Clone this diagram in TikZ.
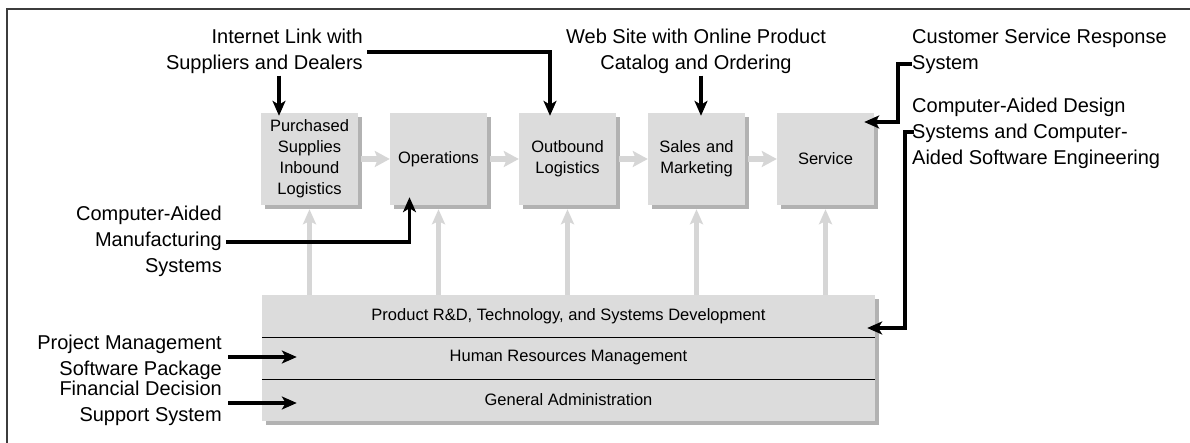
\documentclass[tikz,border=0pt]{standalone}
\usepackage{fontspec}
\setmainfont{Liberation Sans}
\usetikzlibrary{arrows.meta,shadows}
\definecolor{boxgray}{RGB}{220,220,220}
\definecolor{shadowgray}{RGB}{178,178,178}
\definecolor{flowgray}{RGB}{214,214,214}
\definecolor{framegray}{RGB}{60,60,60}
\begin{document}
\begin{tikzpicture}[x=1pt,y=-1pt,
  act/.style={fill=boxgray, minimum width=97pt, minimum height=92pt, inner sep=0pt,
    align=center, text width=95pt, font=\fontsize{16.5}{21}\selectfont,
    drop shadow={shadow xshift=4pt, shadow yshift=-4pt, fill=shadowgray, opacity=1}},
  row/.style={fill=boxgray, minimum width=613pt, minimum height=42pt, inner sep=0pt,
    font=\fontsize{16.5}{21}\selectfont},
  lbl/.style={inner sep=2pt, font=\fontsize{20}{26}\selectfont},
  blk/.style={line width=3.5pt, -{Stealth[length=15pt,width=13pt,inset=4pt]}},
  flow/.style={draw=flowgray, line width=6pt, -{Stealth[length=15pt,width=16pt,inset=3pt]}},
  vflow/.style={flow, line width=5pt, -{Stealth[length=15pt,width=13pt,inset=3pt]}},
  divider/.style={line width=1.3pt, black},
  frameline/.style={line width=1.5pt, framegray}
]
\useasboundingbox (0,0) rectangle (1190,443);
\draw[frameline] (7,443) -- (7,9) -- (1190,9);

% primary activities
\node[act] (p) at (309.5,159) {Purchased\\Supplies\\Inbound\\Logistics};
\node[act] (o) at (438.5,159) {Operations};
\node[act] (ol) at (567.5,159) {Outbound\\Logistics};
\node[act] (s) at (696.5,159) {Sales and\\Marketing};
\node[act] (sv) at (825.5,159) {Service};

% support activities
\fill[shadowgray] (266,299) rectangle (879,425);
\node[row] (rd) at (568.5,316) {Product R\&D, Technology, and Systems Development};
\node[row] (hr) at (568.5,358) {Human Resources Management};
\node[row] (ga) at (568.5,400) {General Administration};
\draw[divider] (rd.south west) -- (rd.south east);
\draw[divider] (hr.south west) -- (hr.south east);

% gray flow arrows
\draw[flow] ([xshift=3pt]p.east) -- (o.west);
\draw[flow] ([xshift=3pt]o.east) -- (ol.west);
\draw[flow] ([xshift=3pt]ol.east) -- (s.west);
\draw[flow] ([xshift=3pt]s.east) -- (sv.west);
\draw[vflow] (rd.north -| p.south) -- ([yshift=-4pt]p.south);
\draw[vflow] (rd.north -| o.south) -- ([yshift=-4pt]o.south);
\draw[vflow] (rd.north -| ol.south) -- ([yshift=-4pt]ol.south);
\draw[vflow] (rd.north -| s.south) -- ([yshift=-4pt]s.south);
\draw[vflow] (rd.north -| sv.south) -- ([yshift=-4pt]sv.south);

% labels
\node[lbl, align=right, anchor=east] (inet) at (365,51) {Internet Link with\\Suppliers and Dealers};
\node[lbl, align=center] (web) at (696,51) {Web Site with Online Product\\Catalog and Ordering};
\node[lbl, align=left, anchor=west] (csr) at (910,51) {Customer Service Response\\System};
\node[lbl, align=left, anchor=west] (cad) at (910,133) {Computer-Aided Design\\Systems and Computer-\\Aided Software Engineering};
\node[lbl, align=right, anchor=east] (cam) at (224,241) {Computer-Aided\\Manufacturing\\Systems};
\node[lbl, align=right, anchor=east] (pm) at (224,357) {Project Management\\Software Package};
\node[lbl, align=right, anchor=east] (fd) at (224,403) {Financial Decision\\Support System};

% coordinates for bends
\coordinate (csrtick) at (912,64);
\coordinate (cadtick) at (914,132);

% black arrows
\draw[blk] ([xshift=-30.5pt]p.north |- inet.south) -- ([xshift=-30.5pt,yshift=-3pt]p.north);
\draw[blk] ([xshift=2pt,yshift=-1pt]inet.east) -| ([xshift=-17.5pt,yshift=-3pt]ol.north);
\draw[blk] ([xshift=4.5pt]s.north |- web.south) -- ([xshift=4.5pt,yshift=-3pt]s.north);
\draw[blk] (csrtick) -- (898,64) |- ([xshift=-10pt,yshift=37pt]sv.east);
\draw[blk] (cadtick) -- (905,132) |- ([xshift=-8pt,yshift=-12pt]rd.east);
\draw[blk] ([xshift=2pt,yshift=-1pt]cam.east) -| ([xshift=-29pt,yshift=8pt]o.south);
\draw[blk] ([xshift=4pt]pm.east) -- ([xshift=35pt]pm.east -| hr.west);
\draw[blk] ([xshift=4pt]fd.east) -- ([xshift=35pt]fd.east -| ga.west);
\end{tikzpicture}
\end{document}
